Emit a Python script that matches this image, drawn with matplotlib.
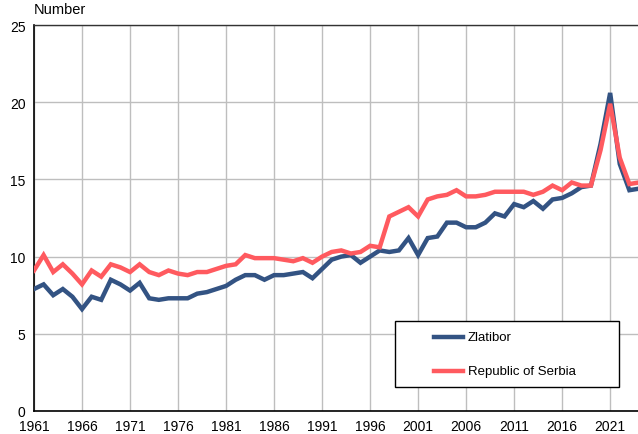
import matplotlib
matplotlib.use("Agg")
import matplotlib.pyplot as plt
from matplotlib.ticker import MultipleLocator
from matplotlib.patches import Rectangle
from matplotlib.lines import Line2D

plt.rcParams['font.family'] = ['Liberation Sans', 'DejaVu Sans']

years = list(range(1961, 2025))
zlatibor = [7.9, 8.2, 7.5, 7.9, 7.4, 6.6, 7.4, 7.2, 8.5, 8.2,
            7.8, 8.3, 7.3, 7.2, 7.3, 7.3, 7.3, 7.6, 7.7, 7.9,
            8.1, 8.5, 8.8, 8.8, 8.5, 8.8, 8.8, 8.9, 9.0, 8.6,
            9.2, 9.8, 10.0, 10.1, 9.6, 10.0, 10.4, 10.3, 10.4, 11.2,
            10.1, 11.2, 11.3, 12.2, 12.2, 11.9, 11.9, 12.2, 12.8, 12.6,
            13.4, 13.2, 13.6, 13.1, 13.7, 13.8, 14.1, 14.5, 14.6, 17.3,
            20.6, 16.0, 14.3, 14.4]
serbia = [9.1, 10.1, 9.0, 9.5, 8.9, 8.2, 9.1, 8.7, 9.5, 9.3,
          9.0, 9.5, 9.0, 8.8, 9.1, 8.9, 8.8, 9.0, 9.0, 9.2,
          9.4, 9.5, 10.1, 9.9, 9.9, 9.9, 9.8, 9.7, 9.9, 9.6,
          10.0, 10.3, 10.4, 10.2, 10.3, 10.7, 10.6, 12.6, 12.9, 13.2,
          12.6, 13.7, 13.9, 14.0, 14.3, 13.9, 13.9, 14.0, 14.2, 14.2,
          14.2, 14.2, 14.0, 14.2, 14.6, 14.3, 14.8, 14.6, 14.6, 16.9,
          19.9, 16.4, 14.7, 14.8]
xticks = list(range(1961, 2022, 5))
series_names = ['Zlatibor', 'Republic of Serbia']
series_colors = ['#335383', '#FF5A5F']

fig = plt.figure(figsize=(6.38, 4.35), dpi=100)
W, H = 638, 435
ax = fig.add_axes([34 / W, (H - 412) / H, 1 - 34 / W, (412 - 26) / H])

ax.plot(years, zlatibor, color=series_colors[0], lw=3.2, label=series_names[0], solid_joinstyle='miter', zorder=3)
ax.plot(years, serbia, color=series_colors[1], lw=3.2, label=series_names[1], solid_joinstyle='miter', zorder=3)

ax.set_xlim(1961, 2023.9)
ax.set_ylim(0, 25)
ax.set_xticks(xticks)
ax.yaxis.set_major_locator(MultipleLocator(5))
ax.grid(True, color='#BEBEBE', lw=1)
ax.set_axisbelow(True)
ax.spines['right'].set_visible(False)
ax.spines['top'].set_color('#333333')
ax.spines['top'].set_linewidth(1)
ax.spines['left'].set_linewidth(1.2)
ax.spines['bottom'].set_linewidth(1.2)
ax.tick_params(length=0, labelsize=10, pad=6)

fig.text(34 / W, 1 - 10 / H, 'Number', fontsize=10.5, ha='left', va='center')

# Legend box drawn in figure pixel coordinates
def fx(x):
    return x / W

def fy(y):
    return 1 - y / H

fig.add_artist(Rectangle((fx(395), fy(388)), fx(619) - fx(395), fy(322) - fy(388),
                         transform=fig.transFigure, facecolor='white', edgecolor='black',
                         lw=1, zorder=10))
for i, (name, col) in enumerate(zip(series_names, series_colors)):
    yy = 338 + i * 34
    fig.add_artist(Line2D([fx(434), fx(463)], [fy(yy), fy(yy)], transform=fig.transFigure,
                          color=col, lw=3.2, zorder=11))
    fig.text(fx(468), fy(yy), name, fontsize=9.5, ha='left', va='center', zorder=11)

fig.savefig('out.png', dpi=100)
